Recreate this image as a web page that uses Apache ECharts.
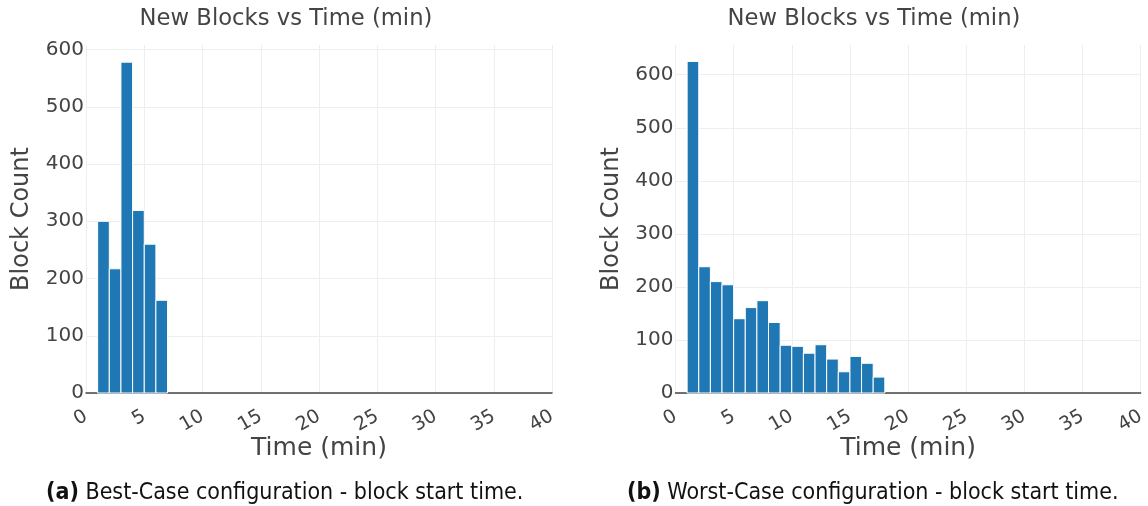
<!DOCTYPE html>
<html>
<head>
<meta charset="utf-8">
<script src="https://cdn.jsdelivr.net/npm/echarts@6/dist/echarts.min.js"></script>
<style>
  html, body { margin: 0; padding: 0; background: #fff; }
  #chart { width: 1148px; height: 506px; }
</style>
</head>
<body>
<div id="chart"></div>
<script>
// Histogram bins: start minute of each 1-minute bin and the number of new blocks in it
const binWidth = 1;
const bestStart = [1, 2, 3, 4, 5, 6];
const bestCounts = [300, 217, 578, 319, 260, 162];
const worstStart = [1, 2, 3, 4, 5, 6, 7, 8, 9, 10, 11, 12, 13, 14, 15, 16, 17];
const worstCounts = [625, 238, 210, 204, 140, 161, 174, 133, 90, 88, 75, 91, 64, 40, 69, 56, 30];

const chartTitle = 'New Blocks vs Time (min)';
const xTitle = 'Time (min)';
const yTitle = 'Block Count';
const captionA = ['(a)', 'Best-Case configuration - block start time.'];
const captionB = ['(b)', 'Worst-Case configuration - block start time.'];

const FONT = 'DejaVu Sans';
const CAPTION_FONT = 'DejaVu Sans Condensed';
const TEXT = '#444';
const BAR = '#1f77b4';

function bins(starts, counts) {
  return starts.map((s, i) => [s, s + binWidth, counts[i]]);
}

function renderBar(params, api) {
  const x0 = api.value(0), x1 = api.value(1), v = api.value(2);
  const top = api.coord([x0, v]);
  const base = api.coord([x1, 0]);
  return {
    type: 'rect',
    shape: { x: top[0], y: top[1], width: base[0] - top[0], height: base[1] - top[1] },
    style: { fill: BAR, stroke: '#fff', lineWidth: 1 }
  };
}

function xAxisFor(idx) {
  return {
    type: 'value', gridIndex: idx, min: 0, max: 40, interval: 5,
    name: xTitle, nameLocation: 'middle', nameGap: 43, nameMoveOverlap: false,
    nameTextStyle: { fontFamily: FONT, fontSize: 25, color: TEXT },
    axisLine: { show: true, lineStyle: { color: '#444', width: 1.5 } },
    axisTick: { show: false },
    axisLabel: { rotate: 30, margin: 22, fontFamily: FONT, fontSize: 19, color: TEXT },
    splitLine: { show: true, lineStyle: { color: '#eee', width: 1 } }
  };
}

function yAxisFor(idx, max) {
  return {
    type: 'value', gridIndex: idx, min: 0, max: max, interval: 100,
    name: yTitle, nameLocation: 'middle', nameGap: 52,
    nameTextStyle: { fontFamily: FONT, fontSize: 24, color: TEXT },
    axisLine: { show: false },
    axisTick: { show: false },
    axisLabel: {
      margin: 2, fontFamily: FONT, fontSize: 20, color: TEXT,
      formatter: v => (v % 100 === 0 ? String(v) : '')
    },
    splitLine: { show: true, showMaxLine: false, lineStyle: { color: '#eee', width: 1 } }
  };
}

function caption(parts, left) {
  return {
    text: '{b|' + parts[0] + '} ' + parts[1],
    left: left, top: 477,
    textStyle: {
      fontFamily: CAPTION_FONT, fontSize: 23, fontWeight: 'normal', color: '#111',
      rich: { b: { fontFamily: CAPTION_FONT, fontSize: 23, fontWeight: 'bold', color: '#111' } }
    }
  };
}

const chart = echarts.init(document.getElementById('chart'), null, { renderer: 'canvas' });
chart.setOption({
  backgroundColor: '#fff',
  animation: false,
  title: [
    { text: chartTitle, left: 281, top: 3, textAlign: 'center',
      textStyle: { fontFamily: FONT, fontSize: 22.7, fontWeight: 'normal', color: TEXT } },
    { text: chartTitle, left: 869, top: 3, textAlign: 'center',
      textStyle: { fontFamily: FONT, fontSize: 22.7, fontWeight: 'normal', color: TEXT } },
    caption(captionA, 41),
    caption(captionB, 622)
  ],
  grid: [
    { left: 86, right: 596, top: 45, bottom: 113 },
    { left: 675.5, right: 4, top: 45, bottom: 113 }
  ],
  xAxis: [xAxisFor(0), xAxisFor(1)],
  yAxis: [yAxisFor(0, 608), yAxisFor(1, 656)],
  series: [
    { type: 'custom', xAxisIndex: 0, yAxisIndex: 0, renderItem: renderBar,
      encode: { x: [0, 1], y: 2 }, data: bins(bestStart, bestCounts), z: 1 },
    { type: 'custom', xAxisIndex: 1, yAxisIndex: 1, renderItem: renderBar,
      encode: { x: [0, 1], y: 2 }, data: bins(worstStart, worstCounts), z: 1 }
  ]
});
</script>
</body>
</html>
